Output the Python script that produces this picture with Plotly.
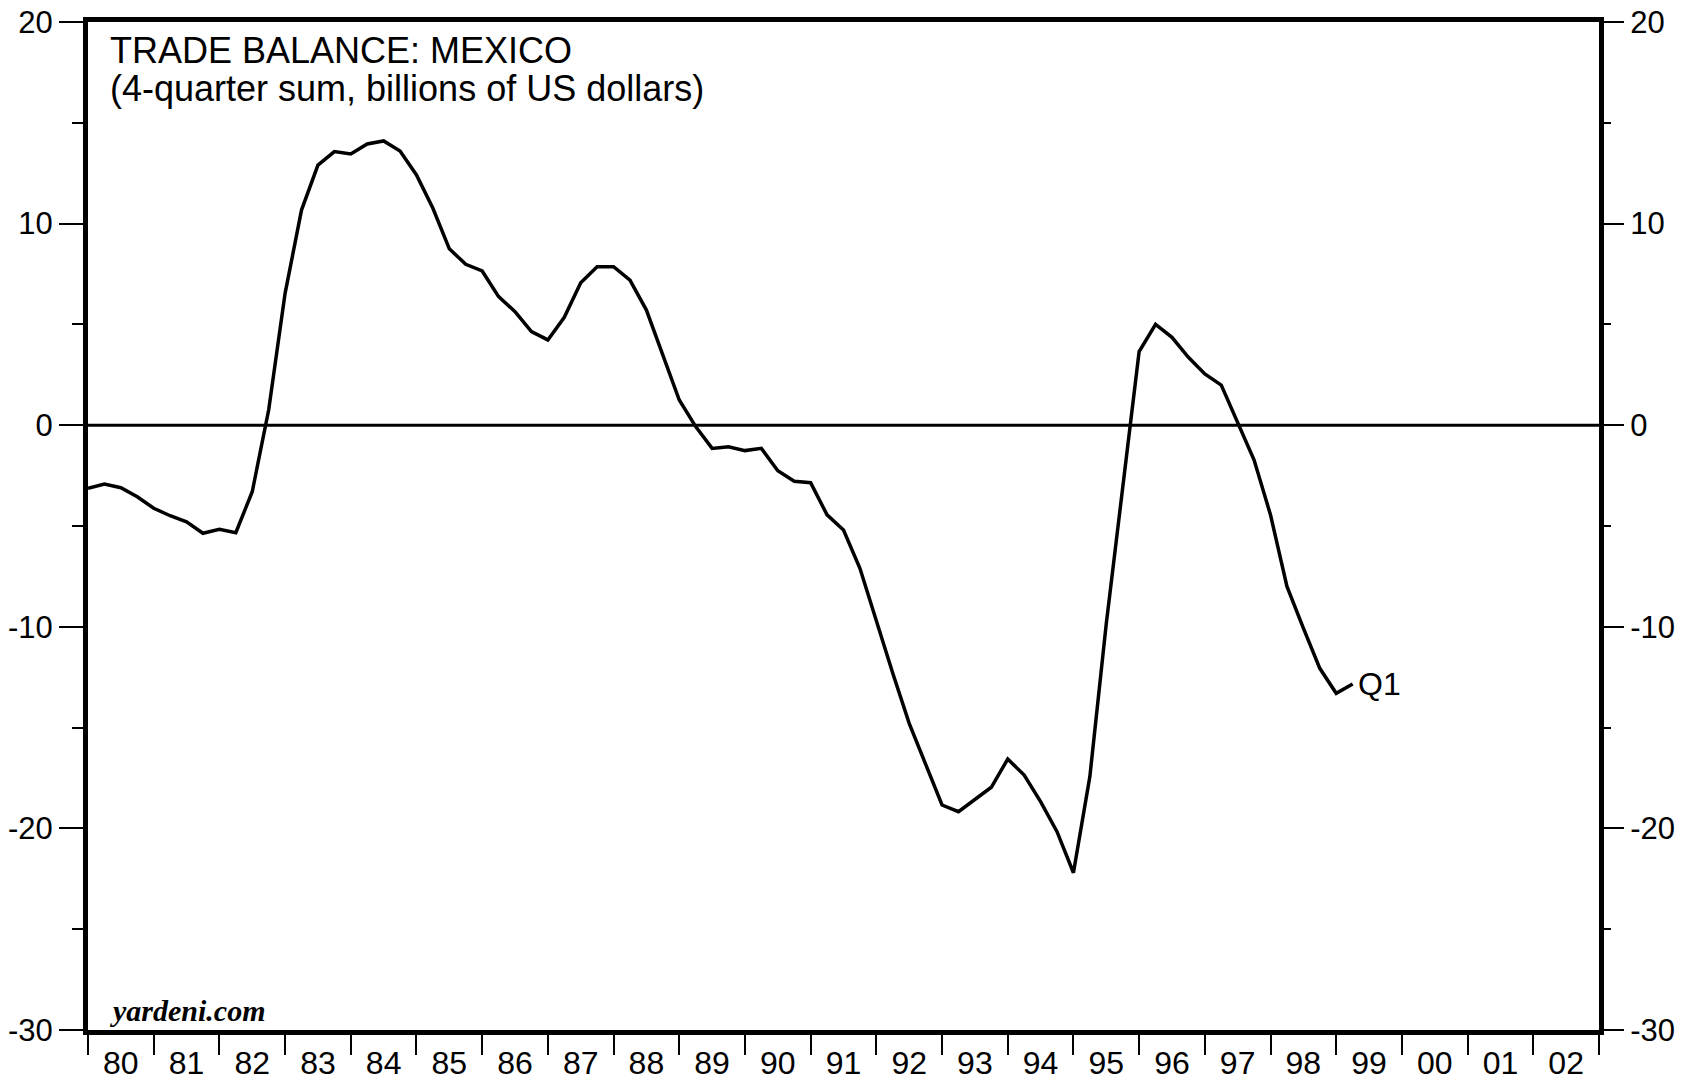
"""
Mexico trade balance, 4-quarter sum (yardeni style chart)
"""
import pandas as pd
import plotly.graph_objects as go

# quarterly data, 1979Q4 .. 1999Q1, billions of US dollars
start_quarter = "1979Q4"
end_quarter = "1999Q1"
trade_balance = [
    -3.13, -2.92, -3.10, -3.55, -4.12, -4.49, -4.79, -5.36, -5.16, -5.33,
    -3.30, 0.75, 6.54, 10.67, 12.90, 13.57, 13.45, 13.95, 14.10, 13.60,
    12.41, 10.76, 8.75, 7.98, 7.65, 6.38, 5.63, 4.64, 4.23, 5.35,
    7.07, 7.86, 7.86, 7.20, 5.71, 3.48, 1.25, -0.07, -1.15, -1.07,
    -1.26, -1.15, -2.26, -2.78, -2.85, -4.45, -5.20, -7.10, -9.75, -12.30,
    -14.79, -16.85, -18.84, -19.17, -18.56, -17.96, -16.56, -17.35, -18.67, -20.16,
    -22.20, -17.43, -9.84, -2.96, 3.65, 5.00, 4.36, 3.37, 2.54, 1.99,
    0.09, -1.73, -4.45, -8.00, -10.07, -12.06, -13.30, -12.84,
]

years = list(range(1980, 2003))
year_labels = ["80", "81", "82", "83", "84", "85", "86", "87", "88", "89", "90",
               "91", "92", "93", "94", "95", "96", "97", "98", "99", "00", "01", "02"]
y_ticks = [-30, -20, -10, 0, 10, 20]
y_labels = ["-30", "-20", "-10", "0", "10", "20"]

# plot each quarter at its end, as decimal years
periods = pd.period_range(start_quarter, end_quarter, freq="Q")
x = [p.year + p.quarter / 4 for p in periods]

FONT = "Liberation Sans, Arial, sans-serif"

fig = go.Figure()

fig.add_hline(y=0, line=dict(color="black", width=3), layer="below")

fig.add_trace(
    go.Scatter(
        x=x,
        y=trade_balance,
        mode="lines",
        line=dict(color="black", width=3.5),
        showlegend=False,
        hoverinfo="skip",
    )
)
# invisible trace so the right axis gets drawn
fig.add_trace(
    go.Scatter(x=[x[0]], y=[0], yaxis="y2", mode="markers",
               marker=dict(opacity=0), showlegend=False, hoverinfo="skip")
)

yaxis_common = dict(
    range=[-30, 20],
    tickvals=y_ticks,
    ticktext=y_labels,
    ticks="outside",
    ticklen=24,
    tickwidth=1.5,
    tickcolor="black",
    minor=dict(dtick=5, tick0=0, ticks="outside", ticklen=11, tickwidth=1.5, tickcolor="black"),
    showgrid=False,
    zeroline=False,
    automargin=False,
    ticklabeloverflow="allow",
    tickfont=dict(family=FONT, size=31, color="black"),
    fixedrange=True,
)

# the page body adds 8px, so margins are 8px smaller than the target layout
fig.update_layout(
    width=1692,
    height=1078,
    margin=dict(l=80, r=101, t=14, b=56),
    plot_bgcolor="white",
    paper_bgcolor="white",
    xaxis=dict(
        range=[1980, 2003],
        tickvals=[yr + 0.5 for yr in years],
        ticktext=year_labels,
        ticks="outside",
        ticklen=0.5,
        tickcolor="rgba(0,0,0,0)",
        minor=dict(tickvals=years + [2003], ticks="outside", ticklen=20,
                   tickwidth=1.5, tickcolor="black"),
        showline=True,
        linecolor="black",
        linewidth=5,
        mirror=True,
        showgrid=False,
        zeroline=False,
        automargin=False,
        ticklabeloverflow="allow",
        tickfont=dict(family=FONT, size=32, color="black"),
    ),
    yaxis=dict(
        side="left",
        showline=True,
        linecolor="black",
        linewidth=5,
        mirror=True,
        **yaxis_common,
    ),
    yaxis2=dict(
        overlaying="y",
        side="right",
        showline=False,
        **yaxis_common,
    ),
)

fig.add_annotation(
    text="TRADE BALANCE: MEXICO",
    xref="paper", yref="paper", x=0.0132, y=0.9715,
    xanchor="left", yanchor="middle", showarrow=False,
    font=dict(family=FONT, size=36, color="black"),
)
fig.add_annotation(
    text="(4-quarter sum, billions of US dollars)",
    xref="paper", yref="paper", x=0.0132, y=0.934,
    xanchor="left", yanchor="middle", showarrow=False,
    font=dict(family=FONT, size=36, color="black"),
)
fig.add_annotation(
    text="<b><i>yardeni.com</i></b>",
    xref="paper", yref="paper", x=0.0132, y=0.019,
    xanchor="left", yanchor="middle", showarrow=False,
    font=dict(family="Liberation Serif, Times New Roman, serif", size=30, color="black"),
)
fig.add_annotation(
    text="Q1",
    x=x[-1], y=trade_balance[-1],
    xanchor="left", yanchor="middle", xshift=3, showarrow=False,
    font=dict(family=FONT, size=32, color="black"),
)

fig.write_html("out.html")
